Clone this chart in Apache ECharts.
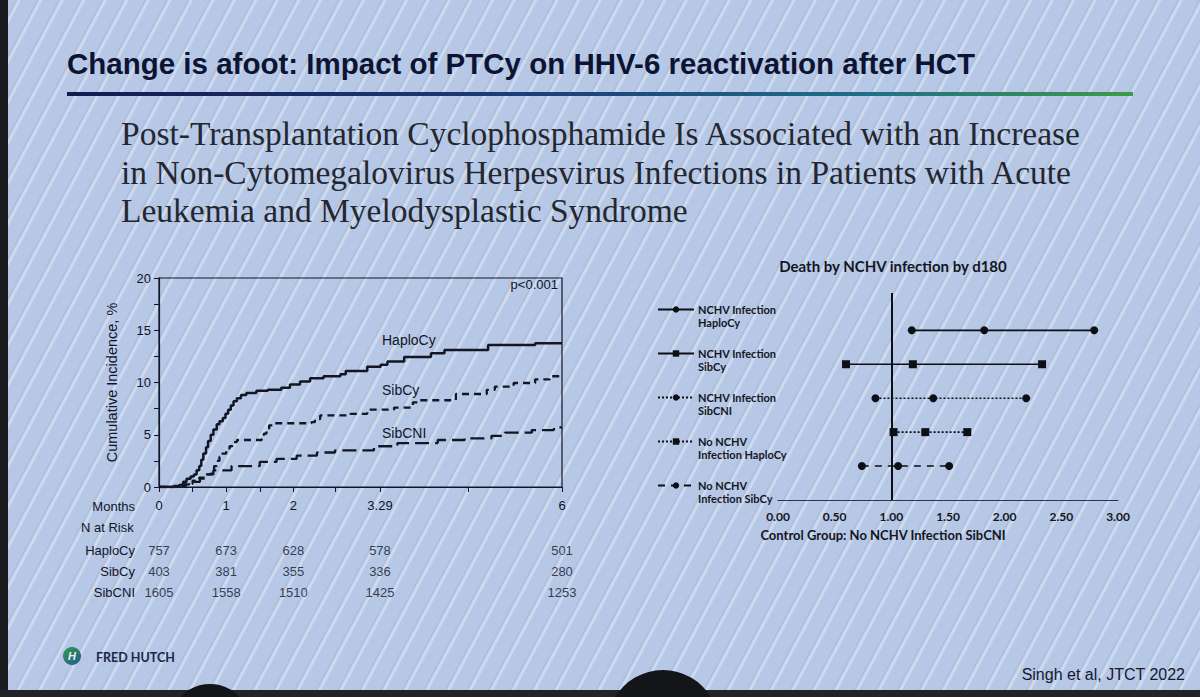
<!DOCTYPE html>
<html><head><meta charset="utf-8">
<script src="https://cdn.jsdelivr.net/npm/echarts@6/dist/echarts.min.js"></script>
<style>
html,body{margin:0;padding:0;}
body{width:1200px;height:697px;overflow:hidden;background-color:#b6c8e6;
background-image:repeating-linear-gradient(118deg, rgba(255,255,255,0) 0px, rgba(255,255,255,0) 13px, rgba(160,172,196,0.3) 14px, rgba(160,172,196,0.3) 15px, rgba(226,236,250,0.5) 16px, rgba(226,236,250,0.5) 18px, rgba(255,255,255,0) 19px);}
#c{width:1200px;height:697px;}
</style></head><body><div id="c"></div>
<script>
// ---------- Cumulative incidence (months, %) ----------
const kmTickValues = [0, 0.5, 1, 1.5, 2, 2.63, 3.29, 4.6, 6];
const kmLabelValues = [0, 1, 2, 3.29, 6];
const haploCy = [[0,0],[0.15,0],[0.22,0.1],[0.3,0.2],[0.36,0.5],[0.41,0.8],[0.47,1.0],[0.52,1.2],[0.56,1.6],[0.6,2.0],[0.63,2.6],[0.66,3.2],[0.7,3.8],[0.73,4.4],[0.77,5.0],[0.81,5.5],[0.86,6.0],[0.9,6.3],[0.95,6.6],[0.99,7.0],[1.03,7.4],[1.07,7.8],[1.11,8.2],[1.16,8.5],[1.22,8.8],[1.3,9.0],[1.45,9.2],[1.62,9.3],[1.82,9.5],[1.95,9.8],[2.1,10.1],[2.25,10.4],[2.45,10.6],[2.7,10.8],[2.78,11.1],[3.1,11.5],[3.3,11.7],[3.4,12.0],[3.65,12.45],[4.05,12.8],[4.25,13.1],[4.9,13.6],[5.6,13.75],[6,13.75]];
const sibCy = [[0,0],[0.3,0.1],[0.4,0.3],[0.5,0.6],[0.6,0.9],[0.7,1.2],[0.78,1.6],[0.82,2.0],[0.86,2.5],[0.9,2.9],[0.93,3.2],[1.0,3.5],[1.05,3.9],[1.09,4.3],[1.16,4.5],[1.53,4.6],[1.56,5.1],[1.6,5.5],[1.64,5.9],[1.72,6.1],[2.27,6.2],[2.32,6.5],[2.4,6.85],[2.85,7.0],[3.1,7.4],[3.5,7.6],[3.78,8.1],[3.85,8.3],[4.42,8.9],[4.88,9.3],[5.0,9.6],[5.28,9.95],[5.6,10.3],[5.82,10.6],[6,10.6]];
const sibCNI = [[0,0],[0.3,0.15],[0.34,0.25],[0.45,0.4],[0.51,0.5],[0.61,0.8],[0.71,1.2],[0.81,1.6],[1.08,2.0],[1.5,2.4],[1.75,2.7],[2.05,3.0],[2.35,3.3],[2.62,3.5],[3.2,3.9],[3.55,4.2],[4.15,4.5],[4.55,4.65],[4.95,4.9],[5.15,5.2],[5.55,5.45],[5.88,5.7],[6,5.7]];

// ---------- Number at risk ----------
const riskGroups = ['HaploCy', 'SibCy', 'SibCNI'];
const riskTimes = [0, 1, 2, 3.29, 6];
const riskHaploCy = [757, 673, 628, 578, 501];
const riskSibCy = [403, 381, 355, 336, 280];
const riskSibCNI = [1605, 1558, 1510, 1425, 1253];

// ---------- Forest plot: death by NCHV infection by d180 ----------
const forestNames = ['NCHV Infection HaploCy', 'NCHV Infection SibCy', 'NCHV Infection SibCNI', 'No NCHV Infection HaploCy', 'No NCHV Infection SibCy'];
const forestLegendText = ['NCHV Infection\nHaploCy', 'NCHV Infection\nSibCy', 'NCHV Infection\nSibCNI', 'No NCHV\nInfection HaploCy', 'No NCHV\nInfection SibCy'];
const forestRowPos = [5, 4, 3, 2, 1];
const forestLow = [1.18, 0.60, 0.86, 1.02, 0.74];
const forestEst = [1.82, 1.19, 1.37, 1.30, 1.06];
const forestHigh = [2.79, 2.33, 2.19, 1.67, 1.51];
const forestSymbols = ['circle', 'rect', 'circle', 'rect', 'circle'];
const forestLineTypes = ['solid', 'solid', [2, 2], [2, 2], [7, 6]];

const INK = '#121625';
const AX = '#111528';
const LS = 'Liberation Sans, Arial, sans-serif';
const LATO = 'Lato, Noto Sans, sans-serif';

const chart = echarts.init(document.getElementById('c'), null, {renderer: 'svg'});

const riskSeriesData = [riskHaploCy, riskSibCy, riskSibCNI];
const riskData = [];
riskSeriesData.forEach((arr, gi) => arr.forEach((v, i) => riskData.push([riskTimes[i], riskGroups[gi], v])));

function kmSeries(name, data, type, width) {
  return {
    name: name, type: 'line', xAxisIndex: 0, yAxisIndex: 0, data: data, step: 'end',
    showSymbol: false, symbol: 'none', silent: true,
    lineStyle: {color: INK, width: width, type: type}
  };
}
const kmLabel = {show: true, position: 'right', distance: 0, color: AX, fontFamily: LS, fontSize: 14};
const km1 = kmSeries('HaploCy', haploCy, 'solid', 2.5);
km1.markPoint = {
  symbol: 'circle', symbolSize: 0, silent: true, label: kmLabel,
  data: [{coord: [3.32, 14.1], label: {formatter: 'HaploCy'}},
         {coord: [5.94, 19.35], label: {formatter: 'p<0.001', position: 'left', fontSize: 13}}]
};
const km2 = kmSeries('SibCy', sibCy, [7, 5], 2.3);
km2.markPoint = {symbol: 'circle', symbolSize: 0, silent: true,
  label: Object.assign({}, kmLabel, {formatter: 'SibCy'}), data: [{coord: [3.32, 9.3]}]};
const km3 = kmSeries('SibCNI', sibCNI, [14, 6], 2.3);
km3.markPoint = {symbol: 'circle', symbolSize: 0, silent: true,
  label: Object.assign({}, kmLabel, {formatter: 'SibCNI'}), data: [{coord: [3.32, 5.15]}]};

const forestSeries = forestNames.map((n, i) => {
  const s = {
    name: n, type: 'line', xAxisIndex: 1, yAxisIndex: 1,
    data: [[forestLow[i], forestRowPos[i]], [forestEst[i], forestRowPos[i]], [forestHigh[i], forestRowPos[i]]],
    symbol: forestSymbols[i], symbolSize: 8, showSymbol: true,
    itemStyle: {color: '#0d0f16'},
    lineStyle: {color: '#0d0f16', width: 1.6, type: forestLineTypes[i]},
    silent: true
  };
  if (i === 0) {
    s.markLine = {silent: true, symbol: 'none', label: {show: false},
      lineStyle: {color: '#0d0f16', width: 2, type: 'solid'}, data: [{xAxis: 1}]};
  }
  return s;
});

const option = {
  animation: false,
  backgroundColor: 'transparent',
  grid: [
    {left: 159, top: 278, width: 403, height: 209, show: true, borderColor: AX, borderWidth: 1.2, backgroundColor: 'transparent'},
    {left: 778, top: 293, width: 340, height: 207},
    {left: 159, top: 540, width: 403, height: 63}
  ],
  xAxis: [
    {gridIndex: 0, type: 'value', min: 0, max: 6,
      axisLine: {show: true, lineStyle: {color: AX, width: 1.2}},
      axisTick: {show: true, length: 5, customValues: kmTickValues, lineStyle: {color: AX}},
      axisLabel: {customValues: kmLabelValues, margin: 12, fontSize: 13, fontFamily: LS, color: AX,
        formatter: v => (Math.abs(v - 3.29) < 1e-6 ? '3.29' : String(v))},
      splitLine: {show: false}},
    {gridIndex: 1, type: 'value', min: 0, max: 3, interval: 0.5,
      axisLine: {show: true, onZero: false, lineStyle: {color: '#2a3656', width: 1.2}},
      axisTick: {show: false},
      axisLabel: {margin: 10, fontSize: 12, fontWeight: 'bold', fontFamily: LATO, color: '#14161e', formatter: v => v.toFixed(2)},
      splitLine: {show: false}},
    {gridIndex: 2, type: 'value', min: 0, max: 6, show: false}
  ],
  yAxis: [
    {gridIndex: 0, type: 'value', min: 0, max: 20, interval: 2.5,
      name: 'Cumulative Incidence, %', nameLocation: 'middle', nameGap: 40, nameRotate: 90,
      nameTextStyle: {fontSize: 14.5, fontFamily: LS, color: AX},
      axisLine: {show: true, lineStyle: {color: AX, width: 1.2}},
      axisTick: {show: true, length: 5, lineStyle: {color: AX}},
      axisLabel: {margin: 8, fontSize: 13, fontFamily: LS, color: AX, formatter: v => (v % 5 === 0 ? String(v) : '')},
      splitLine: {show: false}},
    {gridIndex: 1, type: 'value', min: 0, max: 6.1, show: false},
    {gridIndex: 2, type: 'category', data: riskGroups, inverse: true,
      axisLine: {show: false}, axisTick: {show: false}, splitLine: {show: false},
      axisLabel: {margin: 24, fontSize: 13, fontFamily: LS, color: AX}}
  ],
  legend: {
    orient: 'vertical', left: 657, top: 290, padding: 0, itemGap: 5, itemWidth: 36, itemHeight: 8,
    data: forestNames, selectedMode: false,
    formatter: name => '\n' + forestLegendText[forestNames.indexOf(name)],
    textStyle: {fontSize: 11, lineHeight: 13, fontWeight: 'bold', fontFamily: LATO, color: '#14161e', padding: [0, 0, 0, -1]}
  },
  series: [km1, km2, km3].concat(forestSeries).concat([{
    name: 'N at Risk', type: 'scatter', xAxisIndex: 2, yAxisIndex: 2, data: riskData,
    symbolSize: 1, itemStyle: {color: 'rgba(0,0,0,0)'}, silent: true,
    label: {show: true, position: 'inside', fontSize: 13, fontFamily: LS, color: AX, formatter: p => String(p.value[2])}
  }]),
  graphic: [
    {type: 'rect', left: 0, top: 0, shape: {width: 8, height: 697}, style: {fill: '#1b1c20'}, silent: true},
    {type: 'text', x: 67, y: 63, silent: true, style: {text: 'Change is afoot: Impact of PTCy on HHV-6 reactivation after HCT',
      font: 'bold 29.5px Liberation Sans, Arial, sans-serif', fill: '#0d1433', textVerticalAlign: 'middle'}},
    {type: 'rect', x: 67, y: 92, silent: true, shape: {width: 1066, height: 4},
      style: {fill: {type: 'linear', x: 0, y: 0, x2: 1, y2: 0, colorStops: [
        {offset: 0, color: '#141a52'}, {offset: 0.45, color: '#1d3f7a'}, {offset: 0.75, color: '#1f6f86'}, {offset: 1, color: '#3d9b48'}]}}},
    {type: 'text', x: 121, y: 133, silent: true, style: {text: 'Post-Transplantation Cyclophosphamide Is Associated with an Increase',
      font: '33.5px Liberation Serif, serif', fill: '#24272f', textVerticalAlign: 'middle'}},
    {type: 'text', x: 121, y: 172, silent: true, style: {text: 'in Non-Cytomegalovirus Herpesvirus Infections in Patients with Acute',
      font: '33.5px Liberation Serif, serif', fill: '#24272f', textVerticalAlign: 'middle'}},
    {type: 'text', x: 121, y: 210, silent: true, style: {text: 'Leukemia and Myelodysplastic Syndrome',
      font: '33.5px Liberation Serif, serif', fill: '#24272f', textVerticalAlign: 'middle'}},
    {type: 'text', x: 135, y: 506, silent: true, style: {text: 'Months', font: '13px Liberation Sans, Arial, sans-serif', fill: AX, textAlign: 'right', textVerticalAlign: 'middle'}},
    {type: 'text', x: 81, y: 527, silent: true, style: {text: 'N at Risk', font: '13px Liberation Sans, Arial, sans-serif', fill: AX, textAlign: 'left', textVerticalAlign: 'middle'}},
    {type: 'text', x: 893, y: 266, silent: true, style: {text: 'Death by NCHV infection by d180', font: 'bold 15px Lato, sans-serif', fill: '#14161e', textAlign: 'center', textVerticalAlign: 'middle'}},
    {type: 'text', x: 883, y: 535, silent: true, style: {text: 'Control Group: No NCHV Infection SibCNI', font: 'bold 13px Lato, sans-serif', fill: '#14161e', textAlign: 'center', textVerticalAlign: 'middle'}},
    {type: 'circle', silent: true, shape: {cx: 72, cy: 656, r: 9}, style: {fill: {type: 'linear', x: 0, y: 0, x2: 1, y2: 1, colorStops: [{offset: 0, color: '#3a9a4c'}, {offset: 0.5, color: '#2a7a6a'}, {offset: 1, color: '#1f5f9a'}]}}},
    {type: 'text', x: 72, y: 656, silent: true, style: {text: 'H', font: 'bold italic 11px Liberation Sans, sans-serif', fill: '#e8f0f8', textAlign: 'center', textVerticalAlign: 'middle'}},
    {type: 'text', x: 96, y: 657, silent: true, style: {text: 'FRED HUTCH', font: 'bold 12.5px Lato, sans-serif', fill: '#1a2748', textVerticalAlign: 'middle'}},
    {type: 'text', x: 1185, y: 674, silent: true, style: {text: 'Singh et al, JTCT 2022', font: '16px Liberation Sans, Arial, sans-serif', fill: '#14182e', textAlign: 'right', textVerticalAlign: 'middle'}},
    {type: 'rect', silent: true, shape: {x: 0, y: 690, width: 1200, height: 7}, style: {fill: '#222428'}},
    {type: 'circle', silent: true, shape: {cx: 210, cy: 724, r: 40}, style: {fill: '#141518'}},
    {type: 'circle', silent: true, shape: {cx: 663, cy: 726, r: 56}, style: {fill: '#141518'}}
  ]
};
chart.setOption(option);
</script>
</body></html>
